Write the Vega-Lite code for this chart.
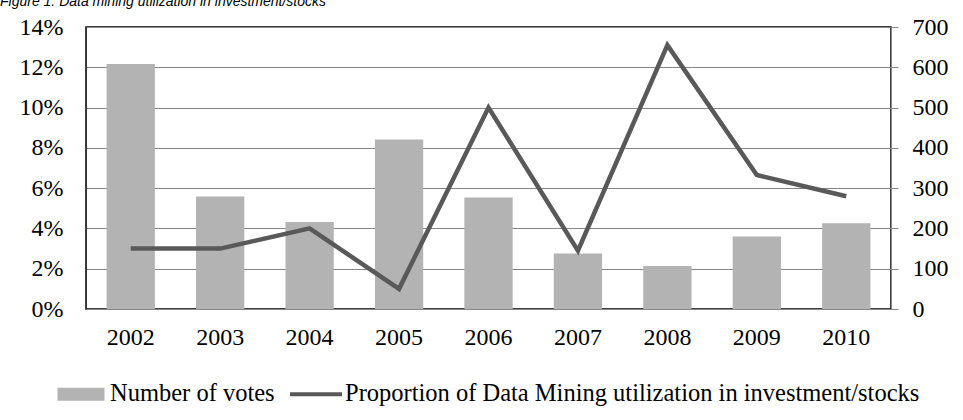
{
  "$schema": "https://vega.github.io/schema/vega-lite/v6.json",
  "width": 805,
  "height": 282,
  "autosize": "none",
  "padding": {"top": 27, "left": 86, "right": 72, "bottom": 111},
  "background": "white",
  "title": {
    "text": "Figure 1: Data mining utilization in investment/stocks",
    "anchor": "start",
    "frame": "group",
    "dx": -86,
    "offset": 5,
    "dy": 10,
    "baseline": "alphabetic",
    "font": "Liberation Sans",
    "fontStyle": "italic",
    "fontWeight": "normal",
    "fontSize": 14,
    "color": "#000"
  },
  "config": {
    "view": {"stroke": "#000", "strokeWidth": 1.5},
    "axis": {"labelFont": "Times New Roman, Liberation Serif, serif", "labelFontSize": 24, "labelColor": "#000", "title": null}
  },
  "data": {
    "values": [
      {"year": "2002", "votes": 608, "proportion": 3.0},
      {"year": "2003", "votes": 279, "proportion": 3.0},
      {"year": "2004", "votes": 216, "proportion": 4.0},
      {"year": "2005", "votes": 421, "proportion": 1.0},
      {"year": "2006", "votes": 277, "proportion": 10.0},
      {"year": "2007", "votes": 138, "proportion": 2.9},
      {"year": "2008", "votes": 107, "proportion": 13.1},
      {"year": "2009", "votes": 180, "proportion": 6.65},
      {"year": "2010", "votes": 213, "proportion": 5.6}
    ]
  },
  "encoding": {
    "x": {
      "field": "year",
      "type": "nominal",
      "sort": null,
      "scale": {"paddingInner": 0.46, "paddingOuter": 0.23},
      "axis": {"labelAngle": 0, "ticks": false, "domainColor": "#888888", "labelPadding": 16, "title": null}
    }
  },
  "layer": [
    {
      "mark": {"type": "bar", "color": "#b3b3b3"},
      "encoding": {
        "y": {
          "field": "votes",
          "type": "quantitative",
          "scale": {"domain": [0, 700], "nice": false},
          "axis": {
            "orient": "right",
            "values": [0, 100, 200, 300, 400, 500, 600, 700],
            "grid": false,
            "tickSize": 7,
            "tickColor": "#888888",
            "domainColor": "#888888",
            "labelPadding": 14,
            "title": null
          }
        },
        "color": {
          "datum": "Number of votes",
          "type": "nominal",
          "scale": {
            "domain": ["Number of votes", "Proportion of Data Mining utilization in investment/stocks"],
            "range": ["#b3b3b3", "#595959"]
          },
          "legend": {
            "orient": "none",
            "legendX": -30,
            "legendY": 342,
            "direction": "horizontal",
            "title": null,
            "padding": 0,
            "labelFont": "Times New Roman, Liberation Serif, serif",
            "labelFontSize": 24.5,
            "labelColor": "#000",
            "labelLimit": 1000,
            "labelOffset": 4,
            "columnPadding": 15,
            "symbolSize": 2500,
            "encode": {
              "symbols": {
                "update": {
                  "shape": {"signal": "datum.value === 'Number of votes' ? 'M-0.94,-0.26H0.94V0.26H-0.94Z' : 'M-1.04,-0.08H1.04V0.08H-1.04Z'"},
                  "fill": {"scale": "color", "field": "value"},
                  "strokeWidth": {"value": 0},
                  "opacity": {"value": 1},
                  "fillOpacity": {"value": 1}
                }
              }
            }
          }
        }
      }
    },
    {
      "mark": {"type": "line", "strokeWidth": 4.5, "color": "#595959"},
      "encoding": {
        "y": {
          "field": "proportion",
          "type": "quantitative",
          "scale": {"domain": [0, 14], "nice": false},
          "axis": {
            "orient": "left",
            "values": [0, 2, 4, 6, 8, 10, 12, 14],
            "labelExpr": "datum.value + '%'",
            "grid": true,
            "gridColor": "#868686",
            "gridWidth": 1.2,
            "ticks": false,
            "domainColor": "#333333",
            "labelPadding": 23,
            "title": null
          }
        },
        "color": {"datum": "Proportion of Data Mining utilization in investment/stocks", "type": "nominal"}
      }
    }
  ],
  "resolve": {"scale": {"y": "independent"}}
}
